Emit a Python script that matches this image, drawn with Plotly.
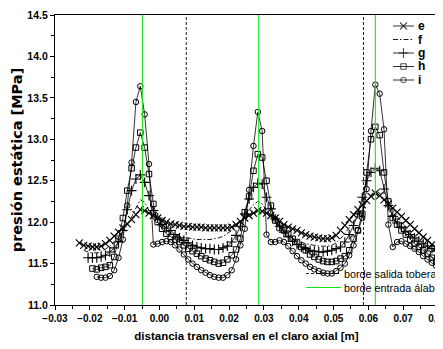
import plotly.graph_objects as go

# ---------------- data ----------------
x_grid = [-0.023, -0.02175, -0.0205, -0.01925, -0.018, -0.01675, -0.0155, -0.01425, -0.013, -0.01175,
          -0.0105, -0.00925, -0.008, -0.00675, -0.0055, -0.00425, -0.003, -0.00175, -0.0005, 0.00075,
          0.002, 0.00325, 0.0045, 0.00575, 0.007, 0.00825, 0.0095, 0.01075, 0.012, 0.01325,
          0.0145, 0.01575, 0.017, 0.01825, 0.0195, 0.02075, 0.022, 0.02325, 0.0245, 0.02575,
          0.027, 0.02825, 0.0295, 0.03075, 0.032, 0.03325, 0.0345, 0.03575, 0.037, 0.03825,
          0.0395, 0.04075, 0.042, 0.04325, 0.0445, 0.04575, 0.047, 0.04825, 0.0495, 0.05075,
          0.052, 0.05325, 0.0545, 0.05575, 0.057, 0.05825, 0.0595, 0.06075, 0.062, 0.06325,
          0.0645, 0.06575, 0.067, 0.06825, 0.0695, 0.07075, 0.072, 0.07325, 0.0745, 0.07575,
          0.077, 0.07825, 0.0795]

e_vals = [11.75, 11.72, 11.71, 11.70, 11.70, 11.71, 11.74, 11.78, 11.83, 11.88,
          11.93, 11.98, 12.03, 12.09, 12.15, 12.14, 12.11, 12.08, 12.05, 12.02,
          12.00, 11.98, 11.97, 11.96, 11.95, 11.95, 11.94, 11.94, 11.94, 11.93,
          11.93, 11.93, 11.93, 11.93, 11.93, 11.94, 11.97, 12.01, 12.05, 12.08,
          12.11, 12.14, 12.13, 12.11, 12.08, 12.05, 12.01, 11.97, 11.94, 11.92,
          11.90, 11.87, 11.85, 11.83, 11.82, 11.81, 11.80, 11.80, 11.81, 11.84,
          11.90, 11.96, 12.03, 12.09, 12.15, 12.21, 12.26, 12.31, 12.35, 12.32,
          12.27, 12.22, 12.17, 12.12, 12.07, 12.02, 11.97, 11.92, 11.87, 11.82,
          11.78, 11.73, 11.69]

f_vals = [11.66, 11.64, 11.63, 11.63, 11.64, 11.67, 11.71, 11.76, 11.82,
          11.89, 11.97, 12.06, 12.17, 12.27, 12.24, 12.13, 12.04, 11.98, 11.93,
          11.90, 11.87, 11.85, 11.83, 11.82, 11.81, 11.80, 11.79, 11.79, 11.79,
          11.79, 11.80, 11.81, 11.83, 11.86, 11.90, 11.95, 12.01, 12.08, 12.15,
          12.21, 12.25, 12.22, 12.14, 12.06, 11.99, 11.93, 11.88, 11.84, 11.80,
          11.78, 11.76, 11.74, 11.73, 11.72, 11.71, 11.71, 11.71, 11.72, 11.75,
          11.80, 11.86, 11.93, 12.00, 12.08, 12.16, 12.25, 12.33, 12.38, 12.35,
          12.28, 12.21, 12.14, 12.07, 12.00, 11.93, 11.86, 11.80, 11.74, 11.68,
          11.63, 11.58, 11.54]

g_vals = [11.57, 11.57, 11.57, 11.58, 11.60, 11.64, 11.69, 11.76,
          11.90, 12.15, 12.38, 12.52, 12.57, 12.48, 12.32, 12.14, 12.05, 11.97,
          11.93, 11.90, 11.85, 11.81, 11.78, 11.75, 11.72, 11.70, 11.69, 11.68,
          11.68, 11.67, 11.67, 11.69, 11.71, 11.76, 11.84, 11.95, 12.10, 12.28,
          12.42, 12.47, 12.46, 12.30, 12.16, 12.04, 11.95, 11.88, 11.82, 11.77,
          11.73, 11.70, 11.68, 11.66, 11.65, 11.64, 11.64, 11.65, 11.66, 11.68,
          11.70, 11.76, 11.85, 11.96, 12.10, 12.30, 12.50, 12.60, 12.65, 12.62,
          12.40, 12.20, 12.07, 11.99, 11.94, 11.89, 11.85, 11.81, 11.77, 11.74,
          11.71, 11.68, 11.65]

h_vals = [11.44, 11.43, 11.45, 11.46, 11.48, 11.58, 11.80,
          12.05, 12.38, 12.65, 12.90, 13.08, 12.90, 12.58, 12.22, 12.00, 11.92,
          11.86, 11.82, 11.79, 11.76, 11.72, 11.68, 11.65, 11.62, 11.59, 11.56,
          11.54, 11.52, 11.50, 11.51, 11.55, 11.60, 11.67, 11.80, 12.12, 12.31,
          12.62, 12.82, 12.78, 12.50, 12.20, 12.02, 11.93, 11.90, 11.86, 11.80,
          11.76, 11.70, 11.66, 11.61, 11.58, 11.55, 11.53, 11.52, 11.52, 11.53,
          11.56, 11.59, 11.66, 11.80, 11.90, 12.10, 12.60, 13.00, 13.15, 13.05,
          12.60, 12.25, 12.05, 11.97, 11.90, 11.85, 11.79, 11.74, 11.70, 11.66,
          11.62, 11.57, 11.53]

i_vals = [11.34, 11.33, 11.33, 11.35, 11.42, 11.57,
          11.79, 12.20, 12.72, 13.45, 13.64, 13.30, 12.70, 11.73, 11.74, 11.76,
          11.77, 11.76, 11.72, 11.67, 11.61, 11.55, 11.50, 11.46, 11.42, 11.39,
          11.36, 11.34, 11.33, 11.33, 11.36, 11.42, 11.55, 11.72, 11.92, 12.39,
          12.92, 13.33, 13.10, 11.85, 11.76, 11.76, 11.78, 11.76, 11.71, 11.65,
          11.59, 11.54, 11.50, 11.46, 11.43, 11.41, 11.39, 11.38, 11.38, 11.41,
          11.45, 11.50, 11.60, 11.72, 11.90, 12.05, 12.40, 13.10, 13.66, 13.55,
          13.12, 11.97, 11.70, 11.76, 11.77, 11.74, 11.71, 11.68, 11.64, 11.59,
          11.55, 11.51, 11.47]

series_names = ["e", "f", "g", "h", "i"]
series_first_index = [0, 1, 2, 3, 4]
series_values = [e_vals, f_vals, g_vals, h_vals, i_vals]

nozzle_edge_x = [0.0077, 0.0586]        # borde salida tobera
blade_edge_x = [-0.0049, 0.0285, 0.062]  # borde entrada álabe

x_range = [-0.03, 0.08]
y_range = [11.0, 14.5]

legend2_labels = ["borde salida tobera", "borde entrada álabe"]

# ---------------- styles ----------------
BLACK = "#000000"
GREEN = "#19e619"
styles = {
    "e": dict(mode="lines+markers", line=dict(color=BLACK, width=0.8),
              marker=dict(symbol="x-thin", size=7, line=dict(color=BLACK, width=1.1))),
    "f": dict(mode="lines", line=dict(color=BLACK, width=0.9, dash="5px,2px,1.5px,2px")),
    "g": dict(mode="lines+markers", line=dict(color=BLACK, width=0.8),
              marker=dict(symbol="cross-thin", size=7, line=dict(color=BLACK, width=1.1))),
    "h": dict(mode="lines+markers", line=dict(color=BLACK, width=0.8),
              marker=dict(symbol="square-open", size=5.5, color=BLACK, line=dict(width=1))),
    "i": dict(mode="lines+markers", line=dict(color=BLACK, width=0.8),
              marker=dict(symbol="circle-open", size=5.5, color=BLACK, line=dict(width=1))),
}
nozzle_style = dict(color=BLACK, width=0.9, dash="3px,2px")
blade_style = dict(color=GREEN, width=1.1)

fig = go.Figure()

for name, k0, vals in zip(series_names, series_first_index, series_values):
    xs = x_grid[k0:k0 + len(vals)]
    fig.add_trace(go.Scatter(x=xs, y=vals, name=name, showlegend=False, **styles[name]))

def vlines(xs):
    vx, vy = [], []
    for v in xs:
        vx += [v, v, None]
        vy += [y_range[0], y_range[1], None]
    return vx, vy

vx, vy = vlines(nozzle_edge_x)
fig.add_trace(go.Scatter(x=vx, y=vy, mode="lines", line=nozzle_style, showlegend=False,
                         name=legend2_labels[0]))
vx, vy = vlines(blade_edge_x)
fig.add_trace(go.Scatter(x=vx, y=vy, mode="lines", line=blade_style, showlegend=False,
                         name=legend2_labels[1]))

# ---------------- layout geometry ----------------
# the page body has an 8px margin, so the figure is drawn 8px in from the window corner
OFF = 8
WIN_W, WIN_H = 443, 349
W, H = WIN_W - OFF, WIN_H - OFF
# plot area in window pixels: x 55..438, y 15..305
L, T = 55 - OFF, 15 - OFF
R, B = W - (438 - OFF), H - (305 - OFF)
pw, ph = W - L - R, H - T - B

def px2x(px):   # window px -> paper fraction
    return (px - OFF - L) / pw

def py2y(py):
    return (H - B - (py - OFF)) / ph

SANS = "Liberation Sans, Arial, sans-serif"
legend_font = dict(family=SANS, size=12, color=BLACK, weight="bold")
rows1 = [26, 39.5, 53, 66.5, 80]
for name, py in zip(series_names, rows1):
    st = styles[name]
    xs = [px2x(393), px2x(403.5), px2x(414)]
    ys = [py2y(py)] * 3
    kw = dict(mode=st["mode"], line=st["line"])
    if "marker" in st:
        m = dict(st["marker"])
        m["size"] = [0, st["marker"]["size"], 0]
        kw["marker"] = m
    fig.add_trace(go.Scatter(x=xs, y=ys, xaxis="x2", yaxis="y2", showlegend=False,
                             hoverinfo="skip", cliponaxis=False, **kw))
    fig.add_annotation(x=px2x(416), y=py2y(py), xref="paper", yref="paper", text=name,
                       showarrow=False, xanchor="left", yanchor="middle", font=legend_font)

rows2 = [273.5, 287.5]
for lbl, py, ls in zip(legend2_labels, rows2, [nozzle_style, blade_style]):
    fig.add_trace(go.Scatter(x=[px2x(306), px2x(341)], y=[py2y(py)] * 2, xaxis="x2", yaxis="y2",
                             mode="lines", line=ls, showlegend=False, hoverinfo="skip",
                             cliponaxis=False))
    fig.add_annotation(x=px2x(342), y=py2y(py), xref="paper", yref="paper", text=lbl,
                       showarrow=False, xanchor="left", yanchor="middle",
                       font=dict(family=SANS, size=10.8, color=BLACK))

fig.update_layout(
    width=W, height=H,
    margin=dict(l=L, r=R, t=T, b=B, autoexpand=False),
    paper_bgcolor="white", plot_bgcolor="white",
    showlegend=False,
    xaxis=dict(range=x_range, tickmode="linear", tick0=0, dtick=0.01, tickformat=".2f", tickangle=0,
               automargin=False, ticklabeloverflow="allow",
               showgrid=False, zeroline=False, showline=True, linecolor=BLACK, linewidth=1.3,
               mirror=True, ticks="outside", ticklen=4, tickwidth=1, tickcolor=BLACK,
               minor=dict(tick0=0, dtick=0.005, ticks="outside", ticklen=2.5, tickcolor=BLACK),
               tickfont=dict(family=SANS, size=10, color=BLACK, weight="bold"),
               title=dict(text="distancia transversal en el claro axial [m]", standoff=8,
                          font=dict(family=SANS, size=11.5, color=BLACK, weight="bold"))),
    yaxis=dict(range=y_range, tick0=11, dtick=0.5, tickformat=".1f",
               automargin=False,
               showgrid=False, zeroline=False, showline=True, linecolor=BLACK, linewidth=1.3,
               mirror=True, ticks="outside", ticklen=4, tickwidth=1, tickcolor=BLACK,
               minor=dict(dtick=0.25, ticks="outside", ticklen=2.5, tickcolor=BLACK),
               tickfont=dict(family=SANS, size=10.5, color=BLACK, weight="bold"),
               title=dict(text="presión estática [MPa]", standoff=1,
                          font=dict(family="DejaVu Sans, sans-serif", size=14.5, color=BLACK, weight="bold"))),
    xaxis2=dict(overlaying="x", range=[0, 1], visible=False, fixedrange=True, automargin=False),
    yaxis2=dict(overlaying="y", range=[0, 1], visible=False, fixedrange=True, automargin=False),
)

fig.write_html("out.html")
